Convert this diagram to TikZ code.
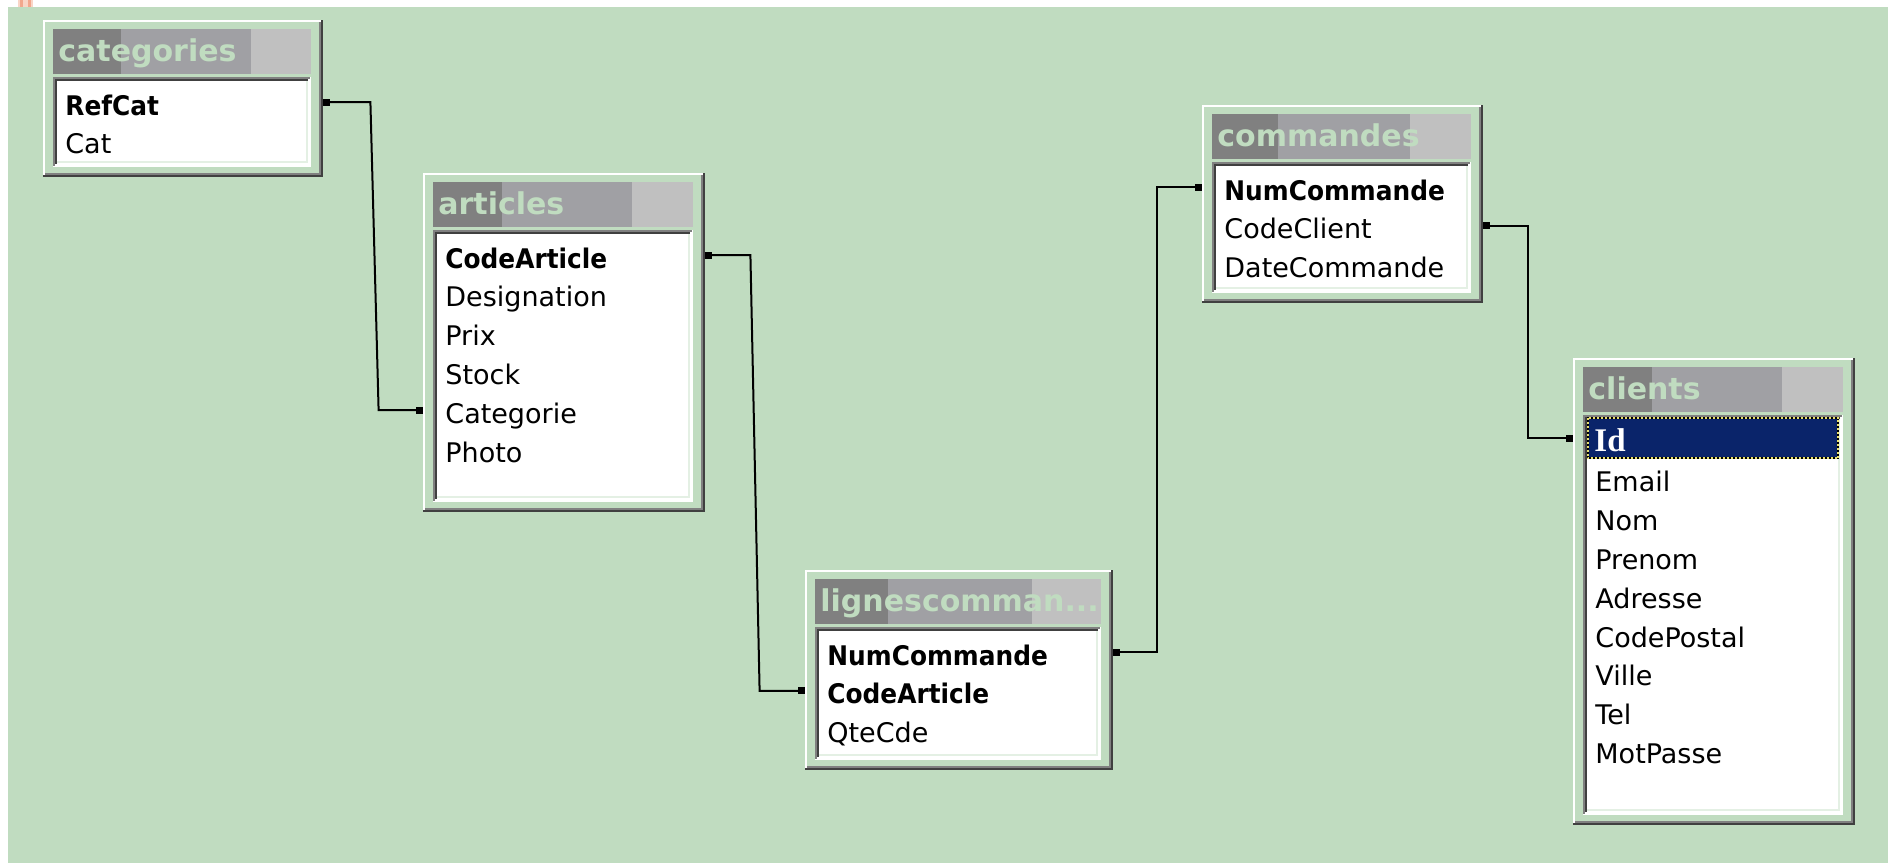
\documentclass[tikz,border=0pt]{standalone}
\usepackage{fontspec}
\setmainfont{DejaVu Sans}
\newfontfamily\keyserif{Liberation Serif}
\usepackage{graphicx}
\usetikzlibrary{arrows.meta,calc,fit}

\definecolor{canvas}{HTML}{C0DCC0}
\definecolor{barA}{HTML}{808080}
\definecolor{barB}{HTML}{A0A0A4}
\definecolor{barC}{HTML}{C0C0C0}
\definecolor{shadeMid}{HTML}{808080}
\definecolor{shadeDark}{HTML}{404040}
\definecolor{paleEdge}{HTML}{E4F0E4}
\definecolor{selNavy}{HTML}{0A246A}
\definecolor{focusDot}{HTML}{E8E070}
\definecolor{tabLight}{HTML}{F9D5C6}
\definecolor{tabDark}{HTML}{F2A78C}

\tikzset{
  fieldtext/.style={anchor=base west, inner sep=0pt, text height=14pt, text depth=1pt,
    font=\fontsize{13.5pt}{16pt}\selectfont, text=black},
  titletext/.style={anchor=base west, inner sep=0pt,
    font=\fontsize{15pt}{18pt}\selectfont\bfseries, text=canvas},
  link/.style={line width=1pt, black,
    {Square[length=3.5pt,width=3.5pt]}-{Square[length=3.5pt,width=3.5pt]}},
  edge1/.style={line width=1pt},
}

% key columns are printed in a tight bold face
\newcommand\keyfield[1]{\scalebox{0.92}[1]{\bfseries #1}}

% raised table window: #1 name, #2 left, #3 top, #4 right, #5 bottom,
% #6/#7 title-bar shade boundaries, #8 title
\newcommand\dbtable[8]{%
  \node[fit={(#2,#3) (#4,#5)}, inner sep=0pt, fill=canvas] (#1) {};
  \draw[edge1, white] (#2+1,#5-2) -- (#2+1,#3+1) -- (#4-2,#3+1);
  \draw[edge1, shadeMid] (#2+2,#5-3) -- (#4-3,#5-3) -- (#4-3,#3+2);
  \draw[edge1, shadeDark] (#2,#5-1) -- (#4-1,#5-1) -- (#4-1,#3);
  \fill[barA] (#2+10,#3+9) rectangle (#2+10+#6,#3+54);
  \fill[barB] (#2+10+#6,#3+9) rectangle (#2+10+#7,#3+54);
  \fill[barC] (#2+10+#7,#3+9) rectangle (#4-12,#3+54);
  \node[titletext] (#1-title) at (#2+15,#3+41) {#8};
  \fill[white] (#2+10,#3+57) rectangle (#4-12,#5-10);
  \draw[edge1, paleEdge] (#2+12,#5-15) -- (#4-16,#5-15) -- (#4-16,#3+61);
  \draw[edge1, shadeMid] (#2+11,#5-11) -- (#2+11,#3+58) -- (#4-13,#3+58);
  \draw[edge1, shadeDark] (#2+13,#5-13) -- (#2+13,#3+60) -- (#4-15,#3+60);
}

% one column line: #1 name, #2/#3 table left/top, #4 row index, #5 text
\newcommand\fieldrow[5]{%
  \node[fieldtext] (#1) at (#2+22,#3+95+38.8*#4) {#5};}

\begin{document}
\begin{tikzpicture}[x=0.5pt,y=-0.5pt]
\useasboundingbox (0,0) rectangle (1888,863);
\fill[white] (0,0) rectangle (1888,863);
\fill[canvas] (8,7) rectangle (1888,863);
\fill[tabLight] (18,0) rectangle (33,7);
\fill[tabDark] (20,0) rectangle (23,7);
\fill[tabDark] (28,0) rectangle (31,7);

% categories
\dbtable{categories}{43}{20}{323}{177}{68}{198}{categories}
\fieldrow{catRefCat}{43}{20}{0}{\keyfield{RefCat}}
\fieldrow{catCat}{43}{20}{1}{Cat}

% articles
\dbtable{articles}{423}{173}{705}{512}{69}{199}{articles}
\fieldrow{artCodeArticle}{423}{173}{0}{\keyfield{CodeArticle}}
\fieldrow{artDesignation}{423}{173}{1}{Designation}
\fieldrow{artPrix}{423}{173}{2}{Prix}
\fieldrow{artStock}{423}{173}{3}{Stock}
\fieldrow{artCategorie}{423}{173}{4}{Categorie}
\fieldrow{artPhoto}{423}{173}{5}{Photo}

% lignescommandes
\dbtable{lignes}{805}{570}{1113}{770}{73}{217}{lignescomman...}
\fieldrow{ligNumCommande}{805}{570}{0}{\keyfield{NumCommande}}
\fieldrow{ligCodeArticle}{805}{570}{1}{\keyfield{CodeArticle}}
\fieldrow{ligQteCde}{805}{570}{2}{QteCde}

% commandes
\dbtable{commandes}{1202}{105}{1483}{303}{66}{198}{commandes}
\fieldrow{comNumCommande}{1202}{105}{0}{\keyfield{NumCommande}}
\fieldrow{comCodeClient}{1202}{105}{1}{CodeClient}
\fieldrow{comDateCommande}{1202}{105}{2}{DateCommande}

% clients
\dbtable{clients}{1573}{358}{1855}{825}{69}{199}{clients}
\node[fit={(1588,418) (1838,458)}, inner sep=0pt, fill=selNavy] (cliIdbar) {};
\draw[edge1, black] (cliIdbar.north west) rectangle (cliIdbar.south east);
\draw[edge1, focusDot, dash pattern=on 1pt off 1pt] (cliIdbar.north west) rectangle (cliIdbar.south east);
\node[anchor=base west, inner sep=0pt, text=white, font=\keyserif\fontsize{16.5pt}{19pt}\selectfont\bfseries] (cliId) at (1594,451) {Id};
\fieldrow{cliEmail}{1573}{358}{1}{Email}
\fieldrow{cliNom}{1573}{358}{2}{Nom}
\fieldrow{cliPrenom}{1573}{358}{3}{Prenom}
\fieldrow{cliAdresse}{1573}{358}{4}{Adresse}
\fieldrow{cliCodePostal}{1573}{358}{5}{CodePostal}
\fieldrow{cliVille}{1573}{358}{6}{Ville}
\fieldrow{cliTel}{1573}{358}{7}{Tel}
\fieldrow{cliMotPasse}{1573}{358}{8}{MotPasse}

% relationships
\draw[link] (categories.east |- catRefCat) -- ++(47,0)
  -- ($(articles.west |- artCategorie)+(-44,0)$) -- (articles.west |- artCategorie);
\draw[link] (articles.east |- artCodeArticle) -- ++(45,0)
  -- ($(lignes.west |- ligCodeArticle)+(-45,0)$) -- (lignes.west |- ligCodeArticle);
\draw[link] (lignes.east |- ligNumCommande) -- ++(44,0)
  |- (commandes.west |- comNumCommande);
\draw[link] (commandes.east |- comCodeClient) -- ++(45,0)
  |- (clients.west |- cliIdbar);
\end{tikzpicture}
\end{document}
